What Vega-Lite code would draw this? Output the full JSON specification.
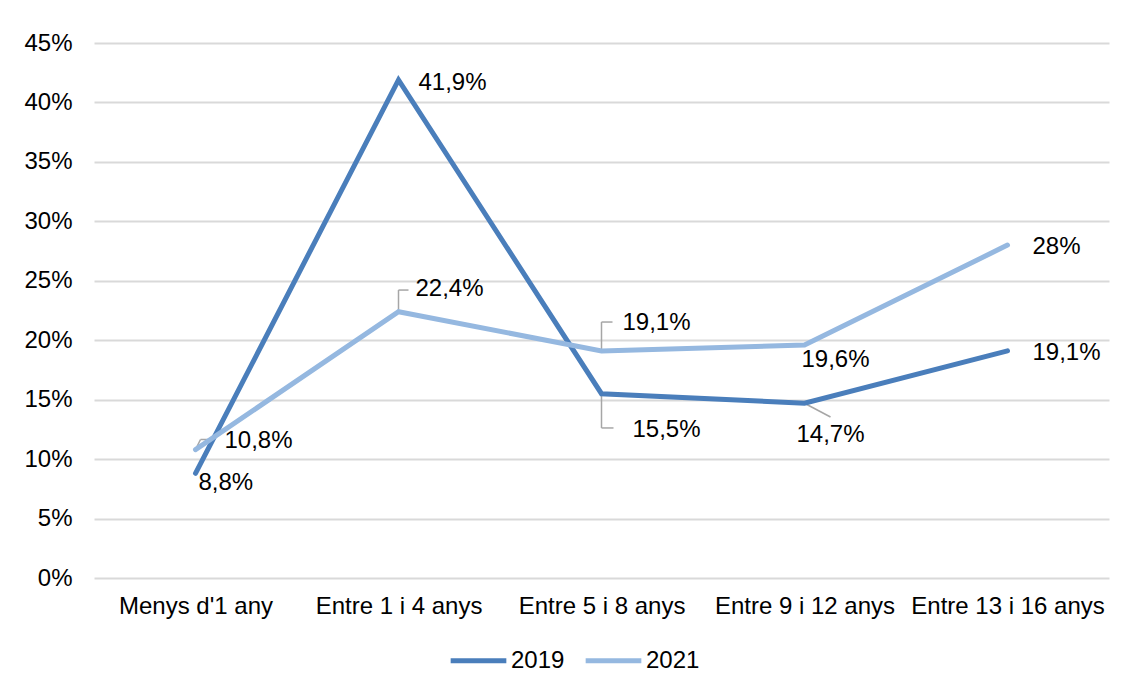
{
  "$schema": "https://vega.github.io/schema/vega-lite/v6.json",
  "autosize": "none",
  "width": 1015,
  "height": 535,
  "padding": {"left": 94, "top": 43, "right": 19, "bottom": 108},
  "background": "white",
  "config": {
    "font": "Liberation Sans",
    "view": {"stroke": null},
    "axis": {"labelFont": "Liberation Sans", "labelColor": "#000000", "labelFontSize": 24, "labelLimit": 400}
  },
  "data": {
    "values": [
      {"cat": "Menys d'1 any", "year": "2019", "v": 8.8, "label": "8,8%"},
      {"cat": "Entre 1 i 4 anys", "year": "2019", "v": 41.9, "label": "41,9%"},
      {"cat": "Entre 5 i 8 anys", "year": "2019", "v": 15.5, "label": "15,5%"},
      {"cat": "Entre 9 i 12 anys", "year": "2019", "v": 14.7, "label": "14,7%"},
      {"cat": "Entre 13 i 16 anys", "year": "2019", "v": 19.1, "label": "19,1%"},
      {"cat": "Menys d'1 any", "year": "2021", "v": 10.8, "label": "10,8%"},
      {"cat": "Entre 1 i 4 anys", "year": "2021", "v": 22.4, "label": "22,4%"},
      {"cat": "Entre 5 i 8 anys", "year": "2021", "v": 19.1, "label": "19,1%"},
      {"cat": "Entre 9 i 12 anys", "year": "2021", "v": 19.6, "label": "19,6%"},
      {"cat": "Entre 13 i 16 anys", "year": "2021", "v": 28.0, "label": "28%"}
    ]
  },
  "encoding": {
    "x": {
      "field": "cat", "type": "ordinal",
      "sort": ["Menys d'1 any", "Entre 1 i 4 anys", "Entre 5 i 8 anys", "Entre 9 i 12 anys", "Entre 13 i 16 anys"],
      "scale": {"type": "point", "padding": 0.5},
      "axis": {"title": null, "labelAngle": 0, "ticks": false, "domain": false, "labelPadding": 16, "grid": false}
    },
    "y": {
      "field": "v", "type": "quantitative",
      "scale": {"domain": [0, 45], "nice": false},
      "axis": {"title": null, "values": [0,5,10,15,20,25,30,35,40,45], "labelExpr": "datum.value + '%'", "ticks": false, "domain": false, "labelPadding": 22, "gridColor": "#D9D9D9", "gridWidth": 2}
    }
  },
  "layer": [
    {
      "transform": [{"filter": "datum.year == '2021' && datum.cat == 'Entre 1 i 4 anys'"}],
      "layer": [
        {"mark": {"type": "rule", "color": "#A6A6A6", "strokeWidth": 1.5}, "encoding": {"y": {"datum": 24.22}, "y2": {"field": "v"}}},
        {"mark": {"type": "rule", "color": "#A6A6A6", "strokeWidth": 1.5, "x2Offset": 10}, "encoding": {"y": {"datum": 24.22}, "x2": {"field": "cat"}}}
      ]
    },
    {
      "transform": [{"filter": "datum.year == '2021' && datum.cat == 'Entre 5 i 8 anys'"}],
      "layer": [
        {"mark": {"type": "rule", "color": "#A6A6A6", "strokeWidth": 1.5}, "encoding": {"y": {"datum": 21.53}, "y2": {"field": "v"}}},
        {"mark": {"type": "rule", "color": "#A6A6A6", "strokeWidth": 1.5, "x2Offset": 11}, "encoding": {"y": {"datum": 21.53}, "x2": {"field": "cat"}}}
      ]
    },
    {
      "transform": [{"filter": "datum.year == '2019' && datum.cat == 'Entre 5 i 8 anys'"}],
      "layer": [
        {"mark": {"type": "rule", "color": "#A6A6A6", "strokeWidth": 1.5}, "encoding": {"y": {"datum": 12.62}, "y2": {"field": "v"}}},
        {"mark": {"type": "rule", "color": "#A6A6A6", "strokeWidth": 1.5, "x2Offset": 12}, "encoding": {"y": {"datum": 12.62}, "x2": {"field": "cat"}}}
      ]
    },
    {
      "transform": [{"filter": "datum.year == '2019' && datum.cat == 'Entre 9 i 12 anys'"}],
      "mark": {"type": "rule", "color": "#A6A6A6", "strokeWidth": 1.5, "x2Offset": 26},
      "encoding": {"x2": {"field": "cat"}, "y2": {"datum": 13.54}}
    },
    {
      "transform": [{"filter": "datum.year == '2021' && datum.cat == \"Menys d'1 any\""}],
      "layer": [
        {"mark": {"type": "rule", "color": "#A6A6A6", "strokeWidth": 1.5, "x2Offset": 5}, "encoding": {"x2": {"field": "cat"}, "y2": {"datum": 11.65}}},
        {"mark": {"type": "rule", "color": "#A6A6A6", "strokeWidth": 1.5, "xOffset": 5, "x2Offset": 19}, "encoding": {"y": {"datum": 11.65}, "x2": {"field": "cat"}}}
      ]
    },
    {
      "mark": {"type": "line", "strokeWidth": 5, "strokeCap": "round"},
      "encoding": {
        "color": {
          "field": "year", "type": "nominal",
          "scale": {"domain": ["2019", "2021"], "range": ["#4A7EBB", "#95B8E0"]},
          "legend": {
            "title": null, "orient": "none", "direction": "horizontal",
            "legendX": 354, "legendY": 587,
            "symbolType": "stroke", "symbolSize": 3100, "symbolStrokeWidth": 5,
            "labelFontSize": 24, "labelFont": "Liberation Sans", "labelColor": "#000000",
            "labelOffset": 2, "columnPadding": 10
          }
        }
      }
    },
    {"transform": [{"filter": "datum.year == '2019' && datum.cat == \"Menys d'1 any\""}], "mark": {"type": "text", "align": "left", "baseline": "middle", "fontSize": 24, "dx": 3, "dy": 10}, "encoding": {"text": {"field": "label"}}},
    {"transform": [{"filter": "datum.year == '2019' && datum.cat == 'Entre 1 i 4 anys'"}], "mark": {"type": "text", "align": "left", "baseline": "middle", "fontSize": 24, "dx": 20, "dy": 3}, "encoding": {"text": {"field": "label"}}},
    {"transform": [{"filter": "datum.year == '2021' && datum.cat == \"Menys d'1 any\""}], "mark": {"type": "text", "align": "left", "baseline": "middle", "fontSize": 24, "dx": 29, "dy": -9}, "encoding": {"text": {"field": "label"}}},
    {"transform": [{"filter": "datum.year == '2021' && datum.cat == 'Entre 1 i 4 anys'"}], "mark": {"type": "text", "align": "left", "baseline": "middle", "fontSize": 24, "dx": 17, "dy": -23}, "encoding": {"text": {"field": "label"}}},
    {"transform": [{"filter": "datum.year == '2021' && datum.cat == 'Entre 5 i 8 anys'"}], "mark": {"type": "text", "align": "left", "baseline": "middle", "fontSize": 24, "dx": 21, "dy": -28}, "encoding": {"text": {"field": "label"}}},
    {"transform": [{"filter": "datum.year == '2019' && datum.cat == 'Entre 5 i 8 anys'"}], "mark": {"type": "text", "align": "left", "baseline": "middle", "fontSize": 24, "dx": 31, "dy": 36}, "encoding": {"text": {"field": "label"}}},
    {"transform": [{"filter": "datum.year == '2021' && datum.cat == 'Entre 9 i 12 anys'"}], "mark": {"type": "text", "align": "left", "baseline": "middle", "fontSize": 24, "dx": -3, "dy": 15}, "encoding": {"text": {"field": "label"}}},
    {"transform": [{"filter": "datum.year == '2019' && datum.cat == 'Entre 9 i 12 anys'"}], "mark": {"type": "text", "align": "left", "baseline": "middle", "fontSize": 24, "dx": -8, "dy": 32}, "encoding": {"text": {"field": "label"}}},
    {"transform": [{"filter": "datum.cat == 'Entre 13 i 16 anys'"}], "mark": {"type": "text", "align": "left", "baseline": "middle", "fontSize": 24, "dx": 25, "dy": 2}, "encoding": {"text": {"field": "label"}}}
  ]
}
